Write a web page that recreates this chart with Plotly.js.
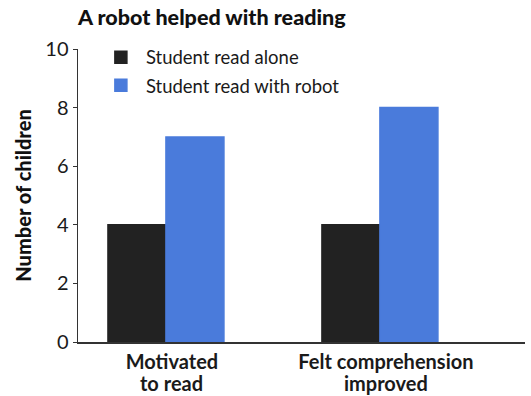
<!DOCTYPE html>
<html>
<head>
<meta charset="utf-8">
<script src="https://cdn.plot.ly/plotly-3.0.1.min.js"></script>
<style>html,body{margin:0;padding:0;background:#fff;}#chart{width:531px;height:396px;}</style>
</head>
<body>
<div id="chart"></div>
<script>
const categoryLine1 = ["Motivated", "Felt comprehension"];
const categoryLine2 = ["to read", "improved"];
const readAlone = [4, 4];
const readWithRobot = [7, 8];
const seriesNames = ["Student read alone", "Student read with robot"];
const yTicks = [0, 2, 4, 6, 8, 10];

const font = "Lato, 'Open Sans', sans-serif";
const traces = [
  {type: "bar", x: categoryLine1, y: readAlone, name: seriesNames[0], legendgroup: "a",
   marker: {color: "#222222", line: {color: "#222222", width: 1.5}}},
  {type: "bar", x: categoryLine1, y: readWithRobot, name: seriesNames[1], legendgroup: "b",
   marker: {color: "#4a7bdb", line: {color: "#4a7bdb", width: 1.5}}}
];
const annotations = categoryLine2.map((t, i) => ({
  x: categoryLine1[i], xref: "x", y: 0, yref: "paper", yanchor: "top", yshift: -27, xshift: 6,
  text: t, showarrow: false, font: {family: font, size: 20, weight: 700, color: "#1a1a1a"}
}));
const layout = {
  width: 531, height: 396,
  margin: {l: 78, r: 6, t: 49, b: 54},
  paper_bgcolor: "#fff", plot_bgcolor: "#fff",
  font: {family: font, color: "#1a1a1a", size: 15},
  title: {text: "A robot helped with reading", x: 0, xref: "paper", xanchor: "left", y: 0.955, yanchor: "middle",
          font: {family: font, size: 21.5, color: "#111", weight: 900}},
  barmode: "group", bargap: 0.458, bargroupgap: 0,
  showlegend: true,
  legend: {x: 0.04, y: 1.035, xanchor: "left", yanchor: "top", bgcolor: "rgba(0,0,0,0)", font: {size: 18.5, family: font, color: "#1a1a1a"}, tracegroupgap: 1, itemwidth: 40},
  xaxis: {type: "category", range: [-0.411, 1.678], showline: true, linecolor: "#333", linewidth: 1.5, ticks: "", showgrid: false, zeroline: false,
          tickfont: {family: font, size: 20, weight: 700, color: "#1a1a1a"}, ticklabelshift: 6, ticklabelstandoff: 1},
  yaxis: {range: [0, 10], tickvals: yTicks, showline: true, linecolor: "#333", linewidth: 1.5, ticks: "outside", ticklen: 4, tickcolor: "#333",
          showgrid: false, zeroline: false, tickfont: {family: font, size: 20, color: "#1a1a1a"},
          title: {text: "Number of children", standoff: 8, font: {family: font, size: 20, color: "#111", weight: 900}}},
  annotations: annotations
};
Plotly.newPlot("chart", traces, layout, {displayModeBar: false, staticPlot: true});
</script>
</body>
</html>
